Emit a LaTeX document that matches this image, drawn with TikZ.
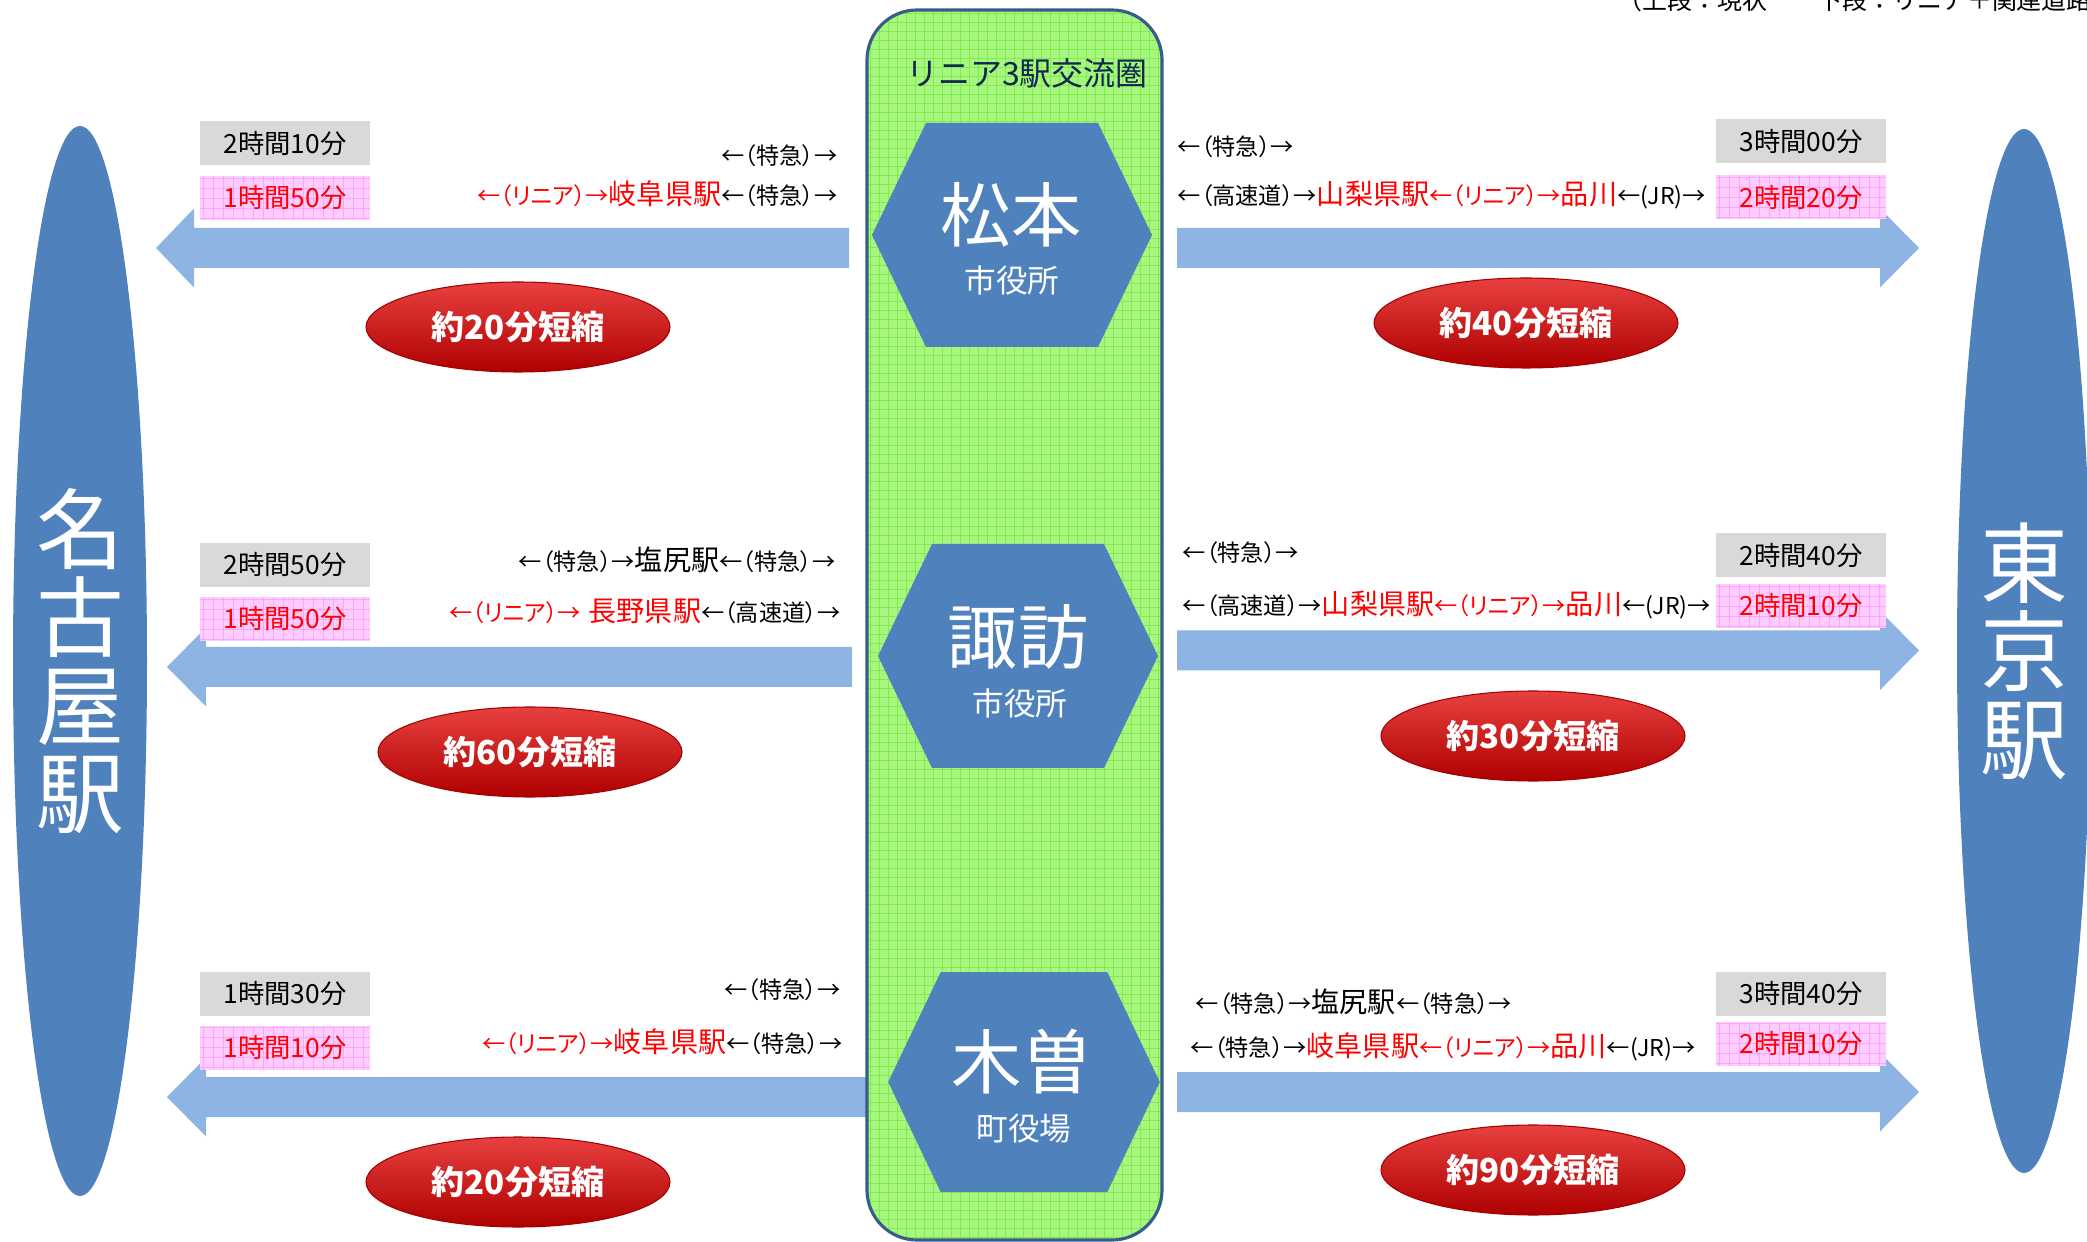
\documentclass[tikz,border=0pt]{standalone}
\usepackage{fontspec}
\setmainfont{Noto Sans CJK JP}
\newfontfamily\jpp[RawFeature=+palt]{Noto Sans CJK JP}
\usetikzlibrary{shapes.geometric,positioning}
\definecolor{hexblue}{RGB}{79,129,189}
\definecolor{bandblue}{RGB}{142,180,227}
\definecolor{zonegreen}{RGB}{168,246,128}
\definecolor{zonegrid}{RGB}{125,238,75}
\definecolor{zoneline}{RGB}{56,93,138}
\definecolor{boxgray}{RGB}{217,217,217}
\definecolor{boxpink}{RGB}{255,204,255}
\definecolor{pinkgrid}{RGB}{250,165,250}
\definecolor{titlenavy}{RGB}{16,40,80}
\definecolor{ovalred}{RGB}{204,0,0}
\newcommand{\sm}[1]{{\jpp\fontsize{6.6}{7}\selectfont #1}}
\newcommand{\st}[1]{{\fontsize{8}{9}\selectfont #1}}
\tikzset{
  >=latex,
  hexa/.pic={\fill[hexblue] (-1.40,0) -- (-0.86,1.12) -- (0.86,1.12) -- (1.40,0) -- (0.86,-1.12) -- (-0.86,-1.12) -- cycle;},
}
\tikzstyle{band}=[fill=bandblue]
\tikzstyle{txt}=[inner sep=0pt]
\tikzstyle{zone}=[draw=zoneline,line width=0.9pt,fill=zonegreen,rounded corners=0.5cm,
  path picture={\draw[zonegrid,line width=0.25pt] (path picture bounding box.south west) grid[step=0.09] (path picture bounding box.north east);}]
\tikzstyle{timebox}=[minimum width=1.70cm,minimum height=0.44cm,inner sep=0pt,font=\fontsize{7.5}{8}\selectfont]
\tikzstyle{nowbox}=[timebox,fill=boxgray]
\tikzstyle{newbox}=[timebox,fill=boxpink,text=red,
  path picture={\draw[pinkgrid,line width=0.25pt] (path picture bounding box.south west) grid[step=0.1] (path picture bounding box.north east);}]
\tikzstyle{gain}=[ellipse,minimum width=3.04cm,minimum height=0.90cm,draw=ovalred!80!black,line width=0.3pt,
  top color={rgb,255:red,232;green,64;blue,64},middle color=ovalred,bottom color={rgb,255:red,175;green,0;blue,0},
  text=white,font=\fontsize{9.4}{10}\selectfont\bfseries]
\tikzstyle{terminal}=[ellipse,fill=hexblue,text=white,inner sep=0pt,align=center,font=\fontsize{25}{25}\selectfont]
\tikzstyle{city}=[text=white,inner sep=0pt,font=\fontsize{20}{22}\selectfont]
\tikzstyle{office}=[text=white,inner sep=0pt,font=\fontsize{9}{10}\selectfont]

\begin{document}
\begin{tikzpicture}
  \useasboundingbox (0,0) rectangle (20.87,-12.42);
  % block arrows
  \foreach \y/\t/\b/\e in {-2.48/1.56/1.94/8.49, -6.67/1.67/2.06/8.52, -10.97/1.67/2.06/8.66}
    \fill[band] (\e,{\y+0.2}) -- (\b,{\y+0.2}) -- (\b,{\y+0.395}) -- (\t,\y) -- (\b,{\y-0.395}) -- (\b,{\y-0.2}) -- (\e,{\y-0.2}) -- cycle;
  \foreach \y in {-2.48, -6.505, -10.92}
    \fill[band] (11.77,{\y+0.2}) -- (18.80,{\y+0.2}) -- (18.80,{\y+0.395}) -- (19.19,\y) -- (18.80,{\y-0.395}) -- (18.80,{\y-0.2}) -- (11.77,{\y-0.2}) -- cycle;

  % station ellipses
  \node[terminal,minimum width=1.34cm,minimum height=10.70cm] (nagoya) at (0.80,-6.61) {名\\古\\屋\\駅};
  \node[terminal,minimum width=1.34cm,minimum height=10.44cm] (tokyo) at (20.24,-6.51) {東\\京\\駅};

  % linear zone
  \node[zone,minimum width=2.95cm,minimum height=12.30cm] (area) at (10.145,-6.25) {};
  \node[txt,text=titlenavy,font=\fontsize{9.1}{10}\selectfont] (title) at (10.27,-0.73) {リニア3駅交流圏};
  \pic at (10.12,-2.35) {hexa};
  \pic at (10.18,-6.56) {hexa};
  \pic[xscale=0.97,yscale=0.98] at (10.24,-10.82) {hexa};
  \node[city] (matsumoto) at (10.11,-2.15) {松本};
  \node[office] (matsumotoSub) at (10.12,-2.80) {市役所};
  \node[city] (suwa) at (10.18,-6.37) {諏訪};
  \node[office] (suwaSub) at (10.20,-7.03) {市役所};
  \node[city] (kiso) at (10.22,-10.62) {木曽};
  \node[office] (kisoSub) at (10.24,-11.29) {町役場};

  % Nagoya side
  \node[nowbox] (nowL1) at (2.85,-1.435) {2時間10分};
  \node[newbox] (newL1) at (2.85,-1.98) {1時間50分};
  \node[txt,anchor=east] (viaL1a) at (8.38,-1.56) {\sm{←（特急）→}};
  \node[txt,anchor=east] (viaL1b) at (8.38,-1.94) {\textcolor{red}{\sm{←（リニア）→}\st{岐阜県駅}}\sm{←（特急）→}};
  \node[gain] (gainL1) at (5.18,-3.27) {約20分短縮};

  \node[nowbox] (nowL2) at (2.85,-5.65) {2時間50分};
  \node[newbox] (newL2) at (2.85,-6.19) {1時間50分};
  \node[txt,anchor=east] (viaL2a) at (8.36,-5.60) {\sm{←（特急）→}\st{塩尻駅}\sm{←（特急）→}};
  \node[txt,anchor=east] (viaL2b) at (8.41,-6.11) {\textcolor{red}{\sm{←（リニア）→} \st{長野県駅}}\sm{←（高速道）→}};
  \node[gain] (gainL2) at (5.30,-7.52) {約60分短縮};

  \node[nowbox] (nowL3) at (2.85,-9.935) {1時間30分};
  \node[newbox] (newL3) at (2.85,-10.475) {1時間10分};
  \node[txt,anchor=east] (viaL3a) at (8.41,-9.90) {\sm{←（特急）→}};
  \node[txt,anchor=east] (viaL3b) at (8.43,-10.42) {\textcolor{red}{\sm{←（リニア）→}\st{岐阜県駅}}\sm{←（特急）→}};
  \node[gain] (gainL3) at (5.18,-11.82) {約20分短縮};

  % Tokyo side
  \node[nowbox] (nowR1) at (18.01,-1.415) {3時間00分};
  \node[newbox] (newR1) at (18.01,-1.975) {2時間20分};
  \node[txt,anchor=west] (viaR1a) at (11.77,-1.47) {\sm{←（特急）→}};
  \node[txt,anchor=west] (viaR1b) at (11.77,-1.95) {\sm{←（高速道）→}\textcolor{red}{\st{山梨県駅}\sm{←（リニア）→}\st{品川}}\sm{←(JR)→}};
  \node[gain] (gainR1) at (15.26,-3.23) {約40分短縮};

  \node[nowbox] (nowR2) at (18.01,-5.555) {2時間40分};
  \node[newbox] (newR2) at (18.01,-6.06) {2時間10分};
  \node[txt,anchor=west] (viaR2a) at (11.82,-5.53) {\sm{←（特急）→}};
  \node[txt,anchor=west] (viaR2b) at (11.82,-6.05) {\sm{←（高速道）→}\textcolor{red}{\st{山梨県駅}\sm{←（リニア）→}\st{品川}}\sm{←(JR)→}};
  \node[gain] (gainR2) at (15.33,-7.36) {約30分短縮};

  \node[nowbox] (nowR3) at (18.01,-9.94) {3時間40分};
  \node[newbox] (newR3) at (18.01,-10.435) {2時間10分};
  \node[txt,anchor=west] (viaR3a) at (11.95,-10.02) {\sm{←（特急）→}\st{塩尻駅}\sm{←（特急）→}};
  \node[txt,anchor=west] (viaR3b) at (11.90,-10.47) {\sm{←（特急）→}\textcolor{red}{\st{岐阜県駅}\sm{←（リニア）→}\st{品川}}\sm{←(JR)→}};
  \node[gain] (gainR3) at (15.33,-11.70) {約90分短縮};

  % legend, cut at the top edge
  \node[txt,anchor=base west,font=\fontsize{7.1}{8}\selectfont] (legend) at (16.17,-0.10) {（上段：現状　　下段：リニア＋関連道路};
\end{tikzpicture}
\end{document}
